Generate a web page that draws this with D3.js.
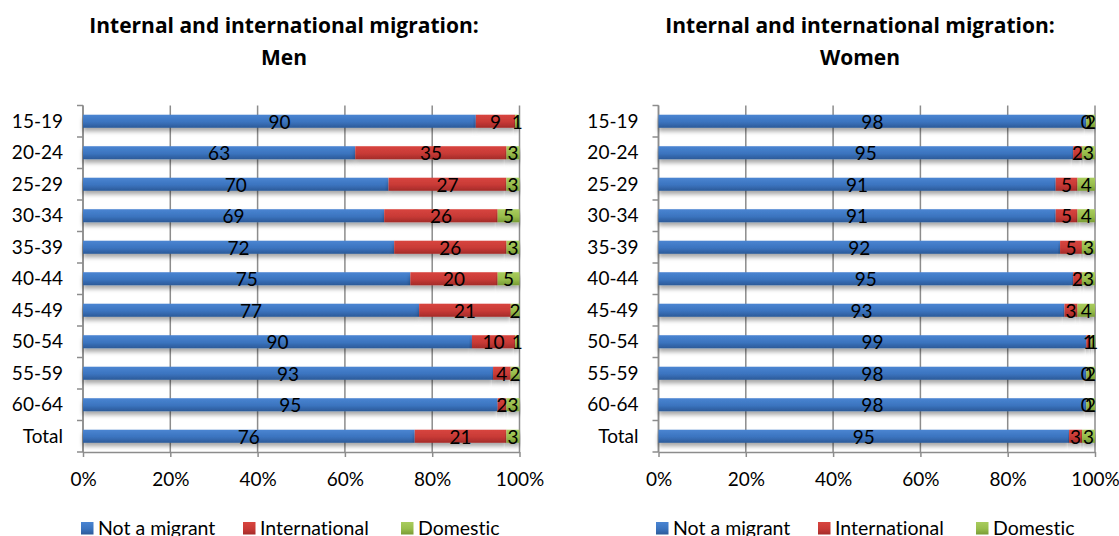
<!DOCTYPE html>
<html>
<head>
<meta charset="utf-8">
<script src="https://cdn.jsdelivr.net/npm/d3@7"></script>
<style>
  html, body { margin: 0; padding: 0; background: #fff; }
  svg { display: block; font-family: Lato, "Open Sans", sans-serif; font-variant-ligatures: no-common-ligatures; }
  text { fill: #000; }
</style>
</head>
<body>
<svg id="chart" width="1119" height="536"></svg>
<script>
// Age groups (rows, top to bottom)
const categories = ["15-19", "20-24", "25-29", "30-34", "35-39", "40-44", "45-49", "50-54", "55-59", "60-64", "Total"];
const seriesNames = ["Not a migrant", "International", "Domestic"];
const tickLabels = ["0%", "20%", "40%", "60%", "80%", "100%"];

// Men, percent of each age group
const menNotMigrant    = [90, 63, 70, 69, 72, 75, 77, 90, 93, 95, 76];
const menInternational = [ 9, 35, 27, 26, 26, 20, 21, 10,  4,  2, 21];
const menDomestic      = [ 1,  3,  3,  5,  3,  5,  2,  1,  2,  3,  3];

// Women, percent of each age group
const womenNotMigrant    = [98, 95, 91, 91, 92, 95, 93, 99, 98, 98, 95];
const womenInternational = [ 0,  2,  5,  5,  5,  2,  3,  1,  0,  0,  3];
const womenDomestic      = [ 2,  3,  4,  4,  3,  3,  4,  1,  2,  2,  3];

const svg = d3.select("#chart");
const defs = svg.append("defs");

// Bar fills: vertical gradients, lighter at the top, darker at the bottom
const palette = [
  { id: "gBlue",  top: "#4a85d2", mid: "#3b74bf", bot: "#2c5a98" },
  { id: "gRed",   top: "#d8453f", mid: "#c83a36", bot: "#a32b29" },
  { id: "gGreen", top: "#a9cc5e", mid: "#98bd4c", bot: "#789b35" }
];
palette.forEach(p => {
  const g = defs.append("linearGradient").attr("id", p.id)
    .attr("x1", 0).attr("y1", 0).attr("x2", 0).attr("y2", 1);
  g.append("stop").attr("offset", "0%").attr("stop-color", p.top);
  g.append("stop").attr("offset", "55%").attr("stop-color", p.mid);
  g.append("stop").attr("offset", "100%").attr("stop-color", p.bot);
});
const shadow = defs.append("filter").attr("id", "barShadow")
  .attr("x", "-5%").attr("y", "-50%").attr("width", "110%").attr("height", "250%");
shadow.append("feDropShadow").attr("dx", 0).attr("dy", 3.5).attr("stdDeviation", 2.2)
  .attr("flood-color", "#000").attr("flood-opacity", 0.35);

const color = d3.scaleOrdinal().domain(seriesNames).range(palette.map(p => `url(#${p.id})`));

const gridColor = "#8c8c8c";

function drawPanel(opts) {
  const { left, right, top, bottom, title, values, titleX, legendX } = opts;

  const rows = categories.map((c, i) => ({
    category: c,
    "Not a migrant": values[0][i],
    "International": values[1][i],
    "Domestic": values[2][i]
  }));

  const stacked = d3.stack().keys(seriesNames).offset(d3.stackOffsetExpand)(rows);

  const x = d3.scaleLinear().domain([0, 1]).range([left, right]);
  const y = d3.scaleBand().domain(categories).range([top, bottom])
    .paddingInner(0.585).paddingOuter(0.2925);

  const g = svg.append("g");

  // Title
  const t = g.append("text").attr("text-anchor", "middle")
    .style("font-family", "'Open Sans', sans-serif")
    .style("font-weight", "bold").style("font-size", "21px");
  title.forEach((line, i) => {
    t.append("tspan").attr("x", titleX).attr("y", 33 + i * 32).text(line);
  });

  // Vertical gridlines
  const ticks = d3.range(0, 1.0001, 0.2);
  g.append("g").selectAll("line").data(ticks).join("line")
    .attr("x1", d => x(d)).attr("x2", d => x(d))
    .attr("y1", top).attr("y2", bottom)
    .attr("stroke", gridColor).attr("stroke-width", 1.5);

  // Bottom axis
  const xAxis = d3.axisBottom(x).tickValues(ticks)
    .tickFormat((d, i) => tickLabels[i]).tickSizeInner(5).tickSizeOuter(0).tickPadding(16);
  const xa = g.append("g").attr("transform", `translate(0,${bottom})`).call(xAxis);
  xa.attr("font-family", null).attr("font-size", null);
  xa.select(".domain").attr("stroke", gridColor).attr("stroke-width", 1.5);
  xa.selectAll(".tick line").attr("stroke", gridColor).attr("stroke-width", 1.5);
  xa.selectAll(".tick text").style("font-size", "19px").attr("fill", "#000");

  // Left axis: ticks between categories
  const step = y.step();
  const boundaries = d3.range(categories.length + 1).map(i => top + i * step);
  g.append("line").attr("x1", left).attr("x2", left).attr("y1", top).attr("y2", bottom)
    .attr("stroke", gridColor).attr("stroke-width", 1.5);
  g.append("g").selectAll("line").data(boundaries).join("line")
    .attr("x1", left - 6).attr("x2", left).attr("y1", d => d).attr("y2", d => d)
    .attr("stroke", gridColor).attr("stroke-width", 1.5);
  g.append("g").selectAll("text").data(categories).join("text")
    .attr("x", left - 20).attr("y", d => y(d) + y.bandwidth() / 2)
    .attr("dy", "0.35em").attr("text-anchor", "end").style("font-size", "19px")
    .text(d => d);

  // Stacked bars
  const layers = g.append("g").selectAll("g").data(stacked).join("g")
    .attr("fill", d => color(d.key));
  layers.selectAll("rect").data(d => d).join("rect")
    .attr("x", d => x(d[0]))
    .attr("y", d => y(d.data.category))
    .attr("width", d => Math.max(0, x(d[1]) - x(d[0])))
    .attr("height", y.bandwidth())
    .attr("filter", "url(#barShadow)");

  // Value labels, centred in each segment
  const labels = g.append("g");
  stacked.forEach(layer => {
    labels.selectAll(null).data(layer).join("text")
      .attr("x", d => (x(d[0]) + x(d[1])) / 2)
      .attr("y", d => y(d.data.category) + y.bandwidth() / 2 + 1)
      .attr("dy", "0.35em").attr("text-anchor", "middle").style("font-size", "19px")
      .text(d => d.data[layer.key]);
  });

  // Legend
  const legendItems = [0, 162, 320];
  const lg = g.append("g");
  seriesNames.forEach((name, i) => {
    const lx = legendX + legendItems[i];
    lg.append("rect").attr("x", lx).attr("y", 522).attr("width", 12.5).attr("height", 12.5)
      .attr("fill", color(name));
    lg.append("text").attr("x", lx + 17).attr("y", 534.5).style("font-size", "19.5px").text(name);
  });
}

drawPanel({
  left: 83, right: 519.5, top: 105.5, bottom: 452,
  title: ["Internal and international migration:", "Men"],
  values: [menNotMigrant, menInternational, menDomestic],
  titleX: 284, legendX: 81
});

drawPanel({
  left: 658.5, right: 1095, top: 105.5, bottom: 452,
  title: ["Internal and international migration:", "Women"],
  values: [womenNotMigrant, womenInternational, womenDomestic],
  titleX: 860, legendX: 656
});
</script>
</body>
</html>
